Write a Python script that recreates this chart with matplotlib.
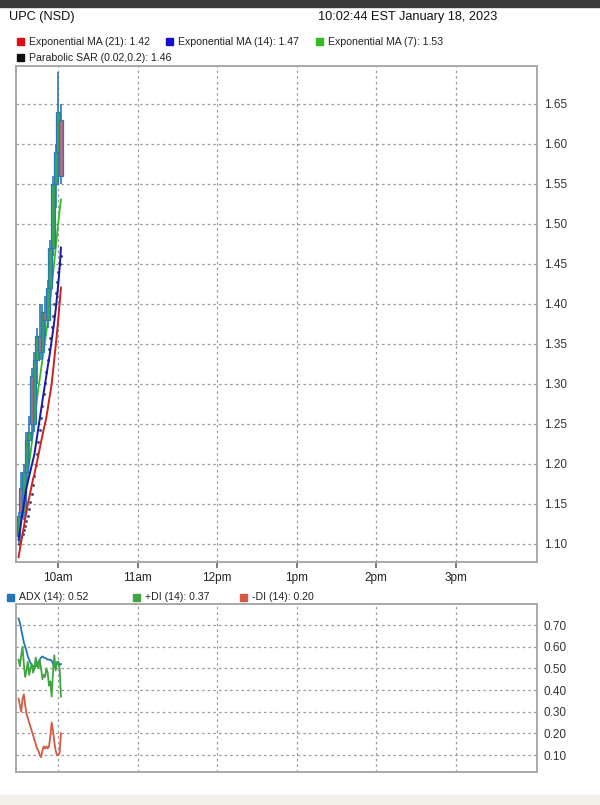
import matplotlib
matplotlib.use("Agg")
import matplotlib.pyplot as plt
from matplotlib.patches import Rectangle

plt.rcParams['font.family'] = ['Liberation Sans', 'DejaVu Sans']

# ---------------- data ----------------
# candle times in minutes after midnight (2-minute candles from 9:30)
candle_t = [570, 572, 574, 576, 578, 580, 582, 584, 586, 588, 590, 592, 594, 596, 598, 600, 602]
candle_open = [1.11, 1.17, 1.14, 1.19, 1.23, 1.31, 1.25, 1.33, 1.36, 1.34, 1.39, 1.38, 1.42, 1.47, 1.55, 1.59, 1.63]
candle_high = [1.14, 1.19, 1.20, 1.24, 1.26, 1.32, 1.34, 1.37, 1.40, 1.40, 1.41, 1.43, 1.48, 1.56, 1.60, 1.69, 1.65]
candle_low = [1.10, 1.13, 1.13, 1.17, 1.20, 1.23, 1.24, 1.30, 1.33, 1.33, 1.36, 1.37, 1.39, 1.46, 1.52, 1.58, 1.55]
candle_close = [1.135, 1.14, 1.19, 1.23, 1.24, 1.25, 1.33, 1.36, 1.34, 1.39, 1.38, 1.42, 1.47, 1.55, 1.59, 1.64, 1.56]

# indicator times (1-minute, 9:30 .. 10:02)
ind_t = list(range(570, 603))
ema21 = [1.083, 1.093, 1.102, 1.112, 1.121, 1.131, 1.140, 1.150, 1.157, 1.165, 1.173,
         1.181, 1.187, 1.195, 1.203, 1.211, 1.219, 1.227, 1.235, 1.243, 1.250, 1.258,
         1.268, 1.279, 1.289, 1.300, 1.315, 1.331, 1.347, 1.363, 1.381, 1.400, 1.420]
ema14 = [1.105, 1.116, 1.127, 1.138, 1.149, 1.160, 1.170, 1.177, 1.184, 1.191, 1.198,
         1.205, 1.212, 1.223, 1.234, 1.245, 1.256, 1.267, 1.278, 1.289, 1.300, 1.310,
         1.321, 1.331, 1.342, 1.354, 1.366, 1.378, 1.392, 1.408, 1.425, 1.444, 1.470]
ema7 = [1.120, 1.126, 1.133, 1.142, 1.152, 1.162, 1.174, 1.187, 1.200, 1.212, 1.226,
        1.240, 1.254, 1.268, 1.282, 1.295, 1.306, 1.318, 1.330, 1.342, 1.353, 1.365,
        1.378, 1.392, 1.406, 1.421, 1.437, 1.453, 1.469, 1.485, 1.501, 1.517, 1.530]
sar = [1.100, 1.104, 1.108, 1.112, 1.117, 1.122, 1.128, 1.135, 1.143, 1.152, 1.162,
       1.173, 1.185, 1.198, 1.212, 1.227, 1.242, 1.257, 1.272, 1.287, 1.301, 1.315,
       1.329, 1.343, 1.357, 1.371, 1.385, 1.399, 1.413, 1.427, 1.440, 1.450, 1.460]

adx = [0.73, 0.71, 0.68, 0.65, 0.62, 0.60, 0.58, 0.555, 0.54, 0.525, 0.515,
       0.51, 0.505, 0.51, 0.52, 0.53, 0.54, 0.55, 0.555, 0.55, 0.548, 0.545,
       0.54, 0.54, 0.54, 0.535, 0.52, 0.505, 0.51, 0.525, 0.53, 0.515, 0.52]
plus_di = [0.54, 0.51, 0.56, 0.60, 0.52, 0.46, 0.49, 0.53, 0.47, 0.50, 0.52,
           0.48, 0.50, 0.55, 0.51, 0.50, 0.54, 0.50, 0.45, 0.47, 0.46, 0.50,
           0.48, 0.42, 0.44, 0.37, 0.48, 0.56, 0.49, 0.53, 0.52, 0.50, 0.37]
minus_di = [0.36, 0.33, 0.30, 0.36, 0.38, 0.33, 0.29, 0.27, 0.25, 0.23, 0.21,
            0.19, 0.17, 0.15, 0.13, 0.12, 0.10, 0.09, 0.12, 0.14, 0.13, 0.14,
            0.13, 0.14, 0.19, 0.25, 0.21, 0.16, 0.12, 0.10, 0.10, 0.11, 0.20]

hour_ticks = [600, 660, 720, 780, 840, 900]
hour_labels = ['10am', '11am', '12pm', '1pm', '2pm', '3pm']
price_ticks = [1.10, 1.15, 1.20, 1.25, 1.30, 1.35, 1.40, 1.45, 1.50, 1.55, 1.60, 1.65]
ind_ticks = [0.10, 0.20, 0.30, 0.40, 0.50, 0.60, 0.70]

title_left = 'UPC (NSD)'
title_right = '10:02:44 EST January 18, 2023'
main_legend = [('Exponential MA (21): 1.42', '#dd1111'),
               ('Exponential MA (14): 1.47', '#1111cc'),
               ('Exponential MA (7): 1.53', '#33bb22'),
               ('Parabolic SAR (0.02,0.2): 1.46', '#111111')]
ind_legend = [('ADX (14): 0.52', '#2176b8'),
              ('+DI (14): 0.37', '#3ea63e'),
              ('-DI (14): 0.20', '#d45a45')]

# ---------------- figure ----------------
W, H = 600, 805
fig = plt.figure(figsize=(6.0, 8.05), dpi=100)
fig.patch.set_facecolor('white')

def fx(px):
    return px / W

def fy(py):
    return 1 - py / H

# top dark bar and bottom light strip
fig.patches.append(Rectangle((0, fy(7)), 1, 7 / H, transform=fig.transFigure,
                             color='#3a3a3a', zorder=0))
fig.patches.append(Rectangle((0, 0), 1, 10 / H, transform=fig.transFigure,
                             color='#f3efe9', zorder=0))

fig.text(fx(9), fy(17), title_left, fontsize=9.2, va='center', ha='left', color='#111')
fig.text(fx(497), fy(17), title_right, fontsize=9.2, va='center', ha='right', color='#111')

def legend_item(x, y, label, color, fs=7.6):
    s = 7
    fig.patches.append(Rectangle((fx(x), fy(y + s / 2)), s / W, s / H,
                                 transform=fig.transFigure, color=color, zorder=3))
    fig.text(fx(x + 12), fy(y), label, fontsize=fs, va='center', ha='left', color='#222')

legend_item(17, 42, main_legend[0][0], main_legend[0][1])
legend_item(166, 42, main_legend[1][0], main_legend[1][1])
legend_item(316, 42, main_legend[2][0], main_legend[2][1])
legend_item(17, 58, main_legend[3][0], main_legend[3][1])

legend_item(7, 597, ind_legend[0][0], ind_legend[0][1])
legend_item(133, 597, ind_legend[1][0], ind_legend[1][1])
legend_item(240, 597, ind_legend[2][0], ind_legend[2][1])

ax = fig.add_axes([fx(15.7), fy(562), fx(537) - fx(15.7), fy(66) - fy(562)])
ax2 = fig.add_axes([fx(15.7), fy(772), fx(537) - fx(15.7), fy(604) - fy(772)])

for a in (ax, ax2):
    a.set_xlim(567.85, 961.3)
    for s in a.spines.values():
        s.set_color('#a8a8a8')
        s.set_linewidth(1.4)
    a.yaxis.tick_right()
    a.tick_params(axis='y', length=0, pad=5, labelsize=8.5, colors='#333')
    a.set_xticks(hour_ticks)
    a.grid(True, color='#9a9a9a', linestyle=(0, (2, 2.5)), linewidth=0.9)
    a.set_axisbelow(True)

ax.set_ylim(1.077, 1.697)
ax.set_yticks(price_ticks)
ax.set_yticklabels([f'{v:.2f}' for v in price_ticks])
ax.set_xticklabels(hour_labels)
ax.tick_params(axis='x', length=4, width=1.2, color='#666', labelsize=8.5, pad=3,
               labelcolor='#222')

ax2.set_ylim(0.0216, 0.797)
ax2.set_yticks(ind_ticks)
ax2.set_yticklabels([f'{v:.2f}' for v in ind_ticks])
ax2.tick_params(axis='x', length=0, labelbottom=False)

# SAR and EMAs below candles where they overlap
ax.plot(ind_t, ema7, color='#33bb22', linewidth=1.3, zorder=2.5)
ax.plot(ind_t, sar, linestyle='none', marker='o', markersize=1.2, color='#334466',
        alpha=0.8, zorder=2.6)

# candles
up_fill, dn_fill, edge = '#3aa84e', '#b86a82', '#2a78b8'
for t, o, h, l, c in zip(candle_t, candle_open, candle_high, candle_low, candle_close):
    ax.vlines(t, l, h, color=edge, linewidth=1.2, zorder=3)
    fill = up_fill if c >= o else dn_fill
    ax.bar(t, abs(c - o), bottom=min(o, c), width=2.8, color=fill, edgecolor=edge,
           linewidth=0.9, zorder=4)

ax.plot(ind_t, ema21, color='#cc2222', linewidth=1.4, zorder=5)
ax.plot(ind_t, ema14, color='#1a1aaa', linewidth=1.4, zorder=5)

ax2.plot(ind_t, adx, color='#2176b8', linewidth=1.3)
ax2.plot(ind_t, plus_di, color='#3ea63e', linewidth=1.3)
ax2.plot(ind_t, minus_di, color='#d45a45', linewidth=1.3)

fig.savefig('out.png', dpi=100)
